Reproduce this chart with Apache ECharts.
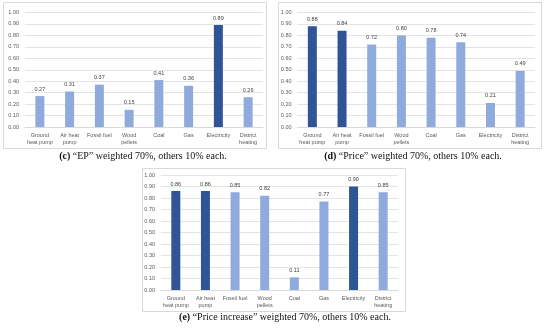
<!DOCTYPE html>
<html><head><meta charset="utf-8">
<script src="https://cdn.jsdelivr.net/npm/echarts@6/dist/echarts.min.js"></script>
<style>html,body{margin:0;padding:0;background:#fff}#c{width:550px;height:332px}</style>
</head><body><div id="c"></div>
<script>
const categories = ["Ground\nheat pump","Air heat\npump","Fossil fuel","Wood\npellets","Coal","Gas","Electricity","District\nheating"];
const yTicks = [0,0.1,0.2,0.3,0.4,0.5,0.6,0.7,0.8,0.9,1.0];
const valuesEP = [0.27,0.31,0.37,0.15,0.41,0.36,0.89,0.26];
const highlightEP = [false,false,false,false,false,false,true,false];
const valuesPrice = [0.88,0.84,0.72,0.80,0.78,0.74,0.21,0.49];
const highlightPrice = [true,true,false,false,false,false,false,false];
const valuesPriceInc = [0.86,0.86,0.85,0.82,0.11,0.77,0.90,0.85];
const highlightPriceInc = [true,true,false,false,false,false,true,false];
const captionLetters = ["(c)","(d)","(e)"];
const captionTexts = [" \u201CEP\u201D weighted 70%, others 10% each."," \u201CPrice\u201D weighted 70%, others 10% each."," \u201CPrice increase\u201D weighted 70%, others 10% each."];

const LIGHT = '#8FAADC', DARK = '#2F5597';
const grids = [
  {left:25, right:287, top:12.5, bottom:205},
  {left:297.5, right:15, top:12.5, bottom:205},
  {left:161, right:152, top:175, bottom:42}
];
const boxes = [
  {x:3,y:2,w:263,h:146},
  {x:278,y:2,w:263,h:146},
  {x:142,y:168,w:263,h:143}
];
const captionPos = [{x:138,y:146.5},{x:408,y:146.5},{x:280,y:307.5}];
const sets = [[valuesEP,highlightEP],[valuesPrice,highlightPrice],[valuesPriceInc,highlightPriceInc]];

const option = {
  animation:false,
  graphic: boxes.map(b=>({type:'rect',shape:{x:b.x+0.5,y:b.y+0.5,width:b.w,height:b.h},style:{fill:'none',stroke:'#D9D9D9',lineWidth:1},z:-1})),
  title: captionPos.map((p,i)=>({
    text:'{b|'+captionLetters[i]+'}{n|'+captionTexts[i]+'}',
    left:p.x, top:p.y, textAlign:'center',
    textStyle:{fontWeight:'normal',rich:{
      b:{fontFamily:'Liberation Serif',fontWeight:'bold',fontSize:10,color:'#111'},
      n:{fontFamily:'Liberation Serif',fontWeight:'normal',fontSize:10,color:'#111'}
    }}
  })),
  grid: grids.map(g=>Object.assign({containLabel:false},g)),
  xAxis: grids.map((g,i)=>({
    type:'category', gridIndex:i, data:categories,
    axisTick:{show:false},
    axisLine:{lineStyle:{color:'#D9D9D9'}},
    axisLabel:{fontSize:5.5,color:'#595959',lineHeight:7,interval:0,margin:5,fontFamily:'Liberation Sans'}
  })),
  yAxis: grids.map((g,i)=>({
    type:'value', gridIndex:i, min:yTicks[0], max:yTicks[yTicks.length-1], interval:0.1,
    axisLine:{show:false}, axisTick:{show:false},
    splitLine:{lineStyle:{color:'#D9D9D9',width:0.7}},
    axisLabel:{fontSize:5.5,color:'#595959',margin:6,fontFamily:'Liberation Sans',formatter:v=>v.toFixed(2)}
  })),
  series: sets.map((s,i)=>({
    type:'bar', xAxisIndex:i, yAxisIndex:i, barWidth:9,
    data: s[0].map((v,j)=>({value:v,itemStyle:{color:s[1][j]?DARK:LIGHT}})),
    label:{show:true,position:'top',distance:4,fontSize:5.5,color:'#404040',fontFamily:'Liberation Sans',formatter:p=>p.value.toFixed(2)}
  }))
};
const chart = echarts.init(document.getElementById('c'),null,{renderer:'canvas'});
chart.setOption(option);
</script></body></html>
